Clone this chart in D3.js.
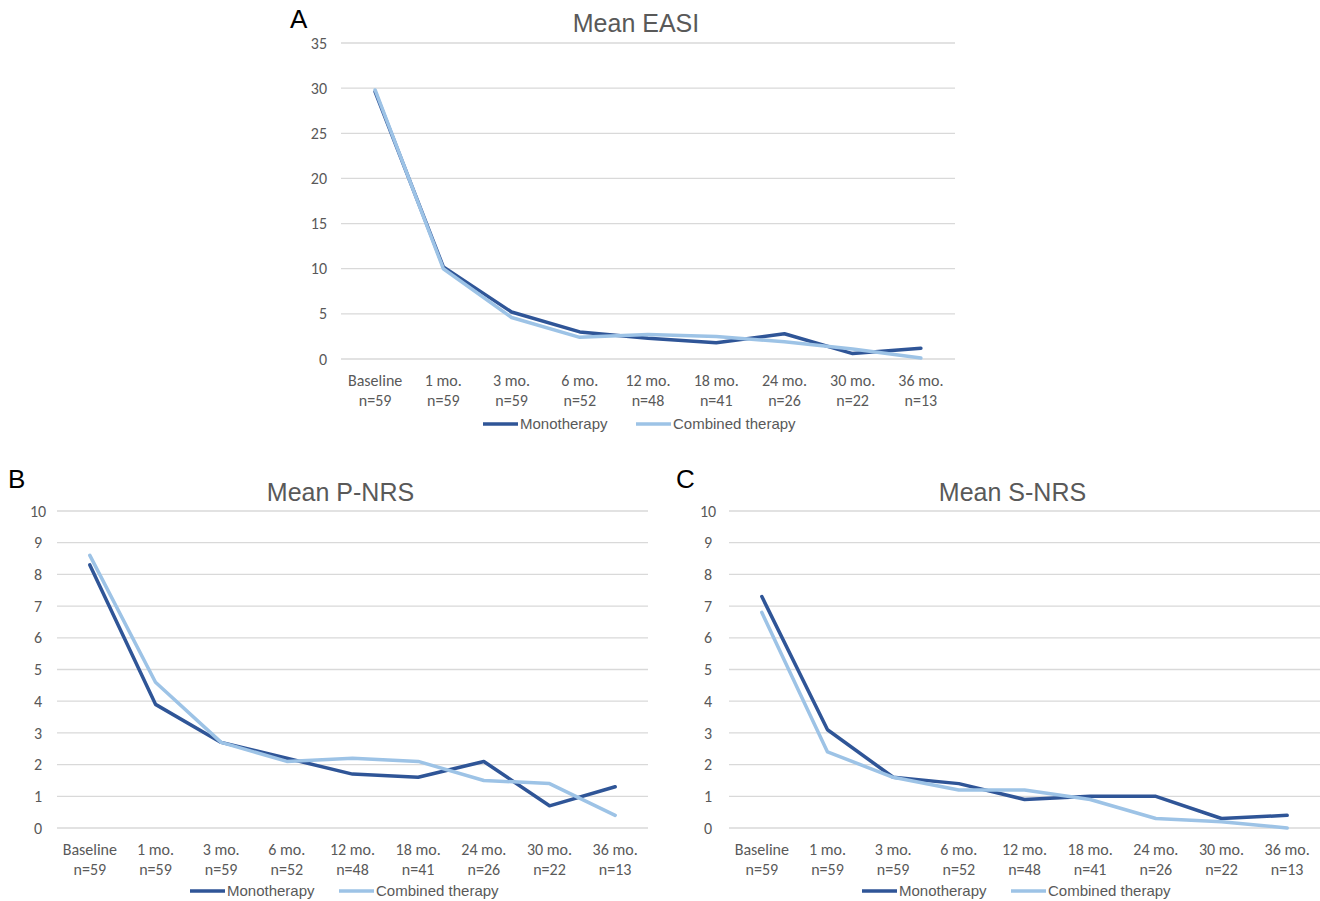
<!DOCTYPE html>
<html><head><meta charset="utf-8">
<script src="https://cdn.jsdelivr.net/npm/d3@7"></script>
<style>
body{margin:0;background:#fff;}
svg{display:block;}
</style></head>
<body><svg id="c" width="1320" height="901"></svg>
<script>
const categories = ["Baseline","1 mo.","3 mo.","6 mo.","12 mo.","18 mo.","24 mo.","30 mo.","36 mo."];
const sampleSizes = ["n=59","n=59","n=59","n=52","n=48","n=41","n=26","n=22","n=13"];
const seriesNames = ["Monotherapy","Combined therapy"];
const easiMono = [29.6,10.2,5.2,3.0,2.3,1.8,2.8,0.6,1.2];
const easiComb = [29.8,10.0,4.6,2.4,2.7,2.5,1.9,1.1,0.1];
const pnrsMono = [8.3,3.9,2.7,2.2,1.7,1.6,2.1,0.7,1.3];
const pnrsComb = [8.6,4.6,2.7,2.1,2.2,2.1,1.5,1.4,0.4];
const snrsMono = [7.3,3.1,1.6,1.4,0.9,1.0,1.0,0.3,0.4];
const snrsComb = [6.8,2.4,1.6,1.2,1.2,0.9,0.3,0.2,0.0];
const easiTicks = [0,5,10,15,20,25,30,35];
const nrsTicks = [0,1,2,3,4,5,6,7,8,9,10];

const colors = ["#2F5597","#9DC3E6"];
const svg = d3.select("#c");
const gray = "#595959";
const labFont = "Carlito, Lato, 'Open Sans', sans-serif";

function panel(o){
  const g = svg.append("g");
  const x = d3.scaleBand().domain(categories).range([o.x0,o.x1]);
  const y = d3.scaleLinear().domain([0,o.ymax]).range([o.y0,o.y1]);
  g.append("g").selectAll("line").data(o.ticks).join("line")
    .attr("x1",o.x0).attr("x2",o.x1)
    .attr("y1",d=>y(d)).attr("y2",d=>y(d))
    .attr("stroke","#d9d9d9").attr("stroke-width",1.3);
  g.append("g").selectAll("text").data(o.ticks).join("text")
    .attr("x",o.ylabX).attr("y",d=>y(d)).attr("dy","0.35em")
    .attr("text-anchor",o.ylabAnchor)
    .attr("font-family",labFont).attr("font-size",16).attr("fill",gray)
    .text(d=>d);
  const xl = g.append("g").selectAll("text").data(categories).join("text")
    .attr("x",d=>x(d)+x.bandwidth()/2).attr("y",o.y0+27)
    .attr("text-anchor","middle").attr("font-family",labFont).attr("font-size",16).attr("fill",gray);
  xl.append("tspan").attr("x",d=>x(d)+x.bandwidth()/2).text(d=>d);
  xl.append("tspan").attr("x",d=>x(d)+x.bandwidth()/2).attr("dy",20).text((d,i)=>sampleSizes[i]);
  const line = d3.line().x((d,i)=>x(categories[i])+x.bandwidth()/2).y(d=>y(d));
  [o.mono,o.comb].forEach((s,k)=>{
    g.append("path").datum(s).attr("d",line).attr("fill","none")
      .attr("stroke",colors[k]).attr("stroke-width",3.5)
      .attr("stroke-linejoin","round").attr("stroke-linecap","round");
  });
  g.append("text").attr("x",(o.x0+o.x1)/2 - 12).attr("y",o.titleY)
    .attr("text-anchor","middle").attr("font-family","'Liberation Sans', Arial, sans-serif")
    .attr("font-size",25).attr("fill",gray).text(o.title);
  g.append("text").attr("x",o.letterX).attr("y",o.letterY)
    .attr("font-family","'Liberation Sans', Arial, sans-serif")
    .attr("font-size",26).attr("fill","#000").text(o.letter);
  o.legend.forEach((lx,k)=>{
    g.append("line").attr("x1",lx).attr("x2",lx+35).attr("y1",o.legY).attr("y2",o.legY)
      .attr("stroke",colors[k]).attr("stroke-width",3.5);
    g.append("text").attr("x",lx+37).attr("y",o.legY).attr("dy","0.35em")
      .attr("font-family","'Liberation Sans Narrow', 'Arial Narrow', sans-serif")
      .attr("font-size",15).attr("fill",gray).text(seriesNames[k]);
  });
}

panel({x0:341,x1:955,y0:359,y1:43,ymax:35,ticks:easiTicks,ylabX:327,ylabAnchor:"end",
  mono:easiMono,comb:easiComb,title:"Mean EASI",titleY:32,letter:"A",letterX:290,letterY:28,
  legend:[483,636],legY:424});
panel({x0:57,x1:648,y0:828,y1:511,ymax:10,ticks:nrsTicks,ylabX:38,ylabAnchor:"middle",
  mono:pnrsMono,comb:pnrsComb,title:"Mean P-NRS",titleY:501,letter:"B",letterX:8,letterY:488,
  legend:[190,339],legY:891});
panel({x0:729,x1:1320,y0:828,y1:511,ymax:10,ticks:nrsTicks,ylabX:708,ylabAnchor:"middle",
  mono:snrsMono,comb:snrsComb,title:"Mean S-NRS",titleY:501,letter:"C",letterX:676,letterY:488,
  legend:[862,1011],legY:891});
</script></body></html>
